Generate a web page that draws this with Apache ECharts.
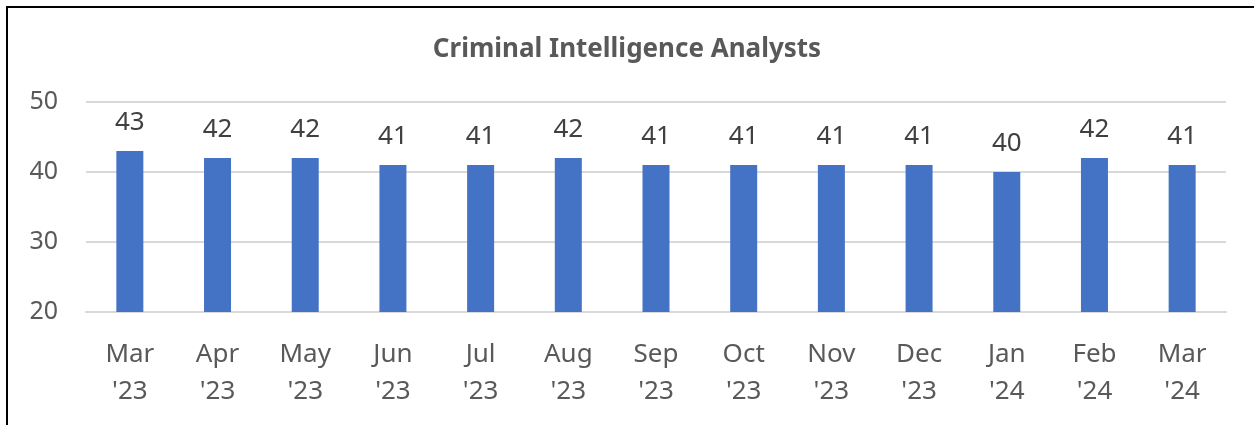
<!DOCTYPE html>
<html>
<head>
<meta charset="utf-8">
<script src="https://cdn.jsdelivr.net/npm/echarts@6/dist/echarts.min.js"></script>
<style>
    html, body { margin: 0; padding: 0; background: #fff; }
    #frame {
        position: absolute; left: 6px; top: 6px; width: 1260px; height: 430px;
        border-top: 2px solid #000; border-left: 2px solid #000;
    }
    #chart { position: absolute; left: 0; top: 0; width: 1254px; height: 425px; }
</style>
</head>
<body>
<div id="frame"></div>
<div id="chart"></div>
<script>
// data
const months = ["Mar\n'23", "Apr\n'23", "May\n'23", "Jun\n'23", "Jul\n'23", "Aug\n'23", "Sep\n'23",
    "Oct\n'23", "Nov\n'23", "Dec\n'23", "Jan\n'24", "Feb\n'24", "Mar\n'24"];
const analysts = [43, 42, 42, 41, 41, 42, 41, 41, 41, 41, 40, 42, 41];
const yTicks = [20, 30, 40, 50];

const FONT = '"Noto Sans", sans-serif';

const myChart = echarts.init(document.getElementById('chart'));

myChart.setOption({
    animation: false,
    title: {
        text: 'Criminal Intelligence Analysts',
        left: 'center',
        top: 32,
        textStyle: { fontFamily: FONT, fontSize: 26, fontWeight: 'bold', color: '#595959' }
    },
    grid: { left: 86, right: 28, top: 102, bottom: 113, containLabel: false },
    xAxis: {
        type: 'category',
        data: months,
        axisLine: { lineStyle: { color: '#d9d9d9', width: 2 } },
        axisTick: { show: false },
        axisLabel: {
            fontFamily: FONT, fontSize: 26, color: '#595959',
            lineHeight: 37, margin: 24, interval: 0
        }
    },
    yAxis: {
        type: 'value',
        min: yTicks[0],
        max: yTicks[yTicks.length - 1],
        interval: 10,
        axisLine: { show: false },
        axisTick: { show: false },
        splitLine: { lineStyle: { color: '#d9d9d9', width: 2 } },
        axisLabel: { fontFamily: FONT, fontSize: 25, color: '#595959', margin: 28 }
    },
    series: [{
        type: 'bar',
        data: analysts,
        barWidth: 27,
        itemStyle: { color: '#4472c4' },
        label: {
            show: true,
            position: 'top',
            distance: 15,
            fontFamily: FONT, fontSize: 26, color: '#404040'
        }
    }]
});
</script>
</body>
</html>
